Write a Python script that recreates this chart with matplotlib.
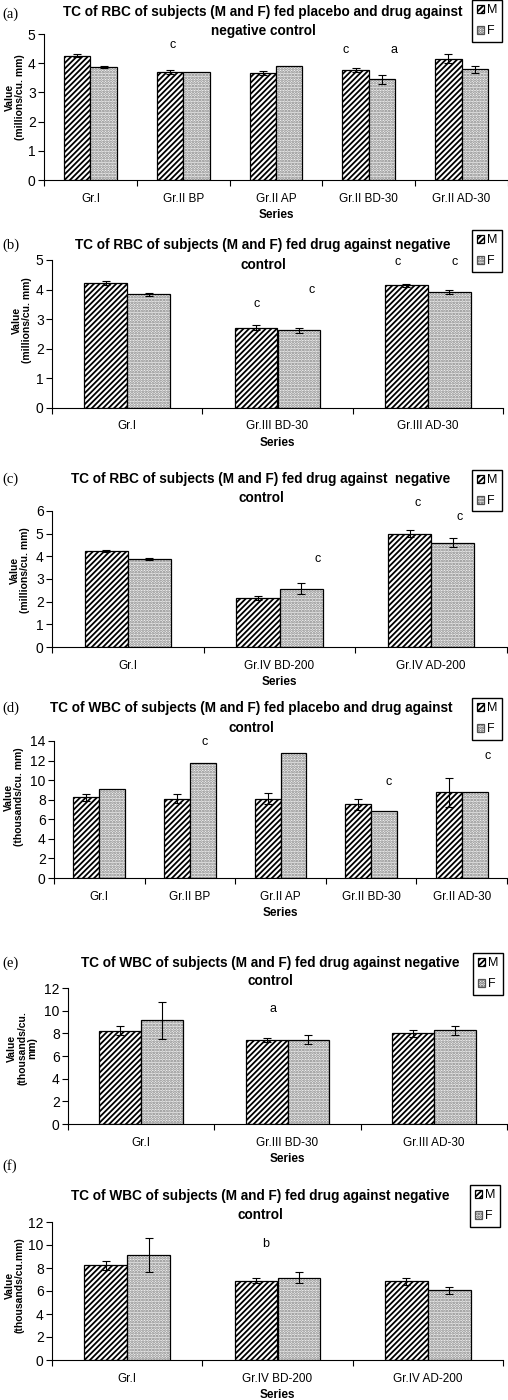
import numpy as np
import matplotlib
matplotlib.use("Agg")
import matplotlib.pyplot as plt
from matplotlib.patches import Patch

plt.rcParams["font.family"] = ["Liberation Sans", "DejaVu Sans"]
plt.rcParams["hatch.linewidth"] = 1.3

W, H = 508, 1400

# ---- (a) RBC, placebo + drug ----
a_cats = ["Gr.I", "Gr.II BP", "Gr.II AP", "Gr.II BD-30", "Gr.II AD-30"]
a_m = [4.25, 3.70, 3.67, 3.78, 4.15]
a_m_err = [0.05, 0.08, 0.07, 0.07, 0.15]
a_f = [3.86, 3.71, 3.91, 3.45, 3.79]
a_f_err = [0.04, 0, 0, 0.15, 0.12]
a_marks = [(1, -0.11, 4.62, "c"), (3, -0.25, 4.45, "c"), (3, 0.27, 4.45, "a")]

# ---- (b) RBC, drug 30 ----
b_cats = ["Gr.I", "Gr.III BD-30", "Gr.III AD-30"]
b_m = [4.22, 2.71, 4.14]
b_m_err = [0.06, 0.08, 0.06]
b_f = [3.85, 2.63, 3.92]
b_f_err = [0.05, 0.08, 0.07]
b_marks = [(1, -0.14, 3.5, "c"), (1, 0.23, 3.99, "c"), (2, -0.2, 4.93, "c"), (2, 0.18, 4.93, "c")]

# ---- (c) RBC, drug 200 ----
c_cats = ["Gr.I", "Gr.IV BD-200", "Gr.IV AD-200"]
c_m = [4.23, 2.15, 5.0]
c_m_err = [0.03, 0.08, 0.15]
c_f = [3.87, 2.57, 4.6]
c_f_err = [0.04, 0.25, 0.2]
c_marks = [(1, 0.25, 3.88, "c"), (2, -0.09, 6.37, "c"), (2, 0.19, 5.72, "c")]

# ---- (d) WBC, placebo + drug ----
d_cats = ["Gr.I", "Gr.II BP", "Gr.II AP", "Gr.II BD-30", "Gr.II AD-30"]
d_m = [8.23, 8.12, 8.12, 7.54, 8.74]
d_m_err = [0.4, 0.45, 0.55, 0.55, 1.45]
d_f = [9.08, 11.8, 12.73, 6.86, 8.74]
d_f_err = [0, 0, 0, 0, 0]
d_marks = [(1, 0.16, 13.9, "c"), (3, 0.19, 9.83, "c"), (4, 0.29, 12.5, "c")]

# ---- (e) WBC, drug 30 ----
e_cats = ["Gr.I", "Gr.III BD-30", "Gr.III AD-30"]
e_m = [8.23, 7.43, 8.02]
e_m_err = [0.4, 0.2, 0.3]
e_f = [9.14, 7.43, 8.26]
e_f_err = [1.6, 0.4, 0.4]
e_marks = [(1, -0.1, 10.18, "a")]

# ---- (f) WBC, drug 200 ----
f_cats = ["Gr.I", "Gr.IV BD-200", "Gr.IV AD-200"]
f_m = [8.23, 6.91, 6.86]
f_m_err = [0.4, 0.2, 0.3]
f_f = [9.14, 7.17, 6.06]
f_f_err = [1.5, 0.5, 0.3]
f_marks = [(1, -0.08, 10.06, "b")]

panels = [
    dict(tag="(a)", cats=a_cats, m=a_m, me=a_m_err, f=a_f, fe=a_f_err, marks=a_marks,
         ymax=5, step=1, box=(44, 34, 508, 180), tag_y=14, title_x=263, title_y=(12, 31),
         title=("TC of RBC of subjects (M and F) fed placebo and drug against", "negative control"),
         ylabel="Value\n(millions/cu. mm)", ylab_xy=(15, 97), leg=(502, 0)),
    dict(tag="(b)", cats=b_cats, m=b_m, me=b_m_err, f=b_f, fe=b_f_err, marks=b_marks,
         ymax=5, step=1, box=(52, 260, 503, 408), tag_y=245, title_x=263, title_y=(245, 265),
         title=("TC of RBC of subjects (M and F) fed drug against negative", "control"),
         ylabel="Value\n(millions/cu. mm)", ylab_xy=(22, 320), leg=(502, 230)),
    dict(tag="(c)", cats=c_cats, m=c_m, me=c_m_err, f=c_f, fe=c_f_err, marks=c_marks,
         ymax=6, step=1, box=(52, 511, 507, 647), tag_y=479, title_x=261, title_y=(479, 498),
         title=("TC of RBC of subjects (M and F) fed drug against  negative", "control"),
         ylabel="Value\n(millions/cu. mm)", ylab_xy=(20, 570), leg=(502, 470)),
    dict(tag="(d)", cats=d_cats, m=d_m, me=d_m_err, f=d_f, fe=d_f_err, marks=d_marks,
         ymax=14, step=2, box=(54, 741, 507, 878), tag_y=708, title_x=251, title_y=(708, 728),
         title=("TC of WBC of subjects (M and F) fed placebo and drug against", "control"),
         ylabel="Value\n(thousands/cu. mm)", ylab_xy=(14, 797), leg=(502, 698)),
    dict(tag="(e)", cats=e_cats, m=e_m, me=e_m_err, f=e_f, fe=e_f_err, marks=e_marks,
         ymax=12, step=2, box=(68, 988, 507, 1124), tag_y=963, title_x=270, title_y=(963, 981),
         title=("TC of WBC of subjects (M and F) fed drug against negative", "control"),
         ylabel="Value\n(thousands/cu.\nmm)", ylab_xy=(22, 1048), leg=(503, 953)),
    dict(tag="(f)", cats=f_cats, m=f_m, me=f_m_err, f=f_f, fe=f_f_err, marks=f_marks,
         ymax=12, step=2, box=(52, 1222, 503, 1360), tag_y=1166, title_x=260, title_y=(1196, 1215),
         title=("TC of WBC of subjects (M and F) fed drug against negative", "control"),
         ylabel="Value\n(thousands/cu.mm)", ylab_xy=(15, 1285), leg=(500, 1185)),
]

M_STYLE = dict(facecolor="white", edgecolor="black", hatch="//////", linewidth=0.9)
F_FILL = dict(facecolor="#f2f2f2", edgecolor="#808080", hatch="......", linewidth=0)
F_EDGE = dict(fill=False, edgecolor="black", linewidth=0.9)

fig = plt.figure(figsize=(W / 100, H / 100), dpi=100)

for p in panels:
    l, t, r, b = p["box"]
    ax = fig.add_axes([l / W, 1 - b / H, (r - l) / W, (b - t) / H])
    n = len(p["cats"])
    x = np.arange(n)
    w = 0.285
    ax.bar(x - w / 2, p["m"], w, **M_STYLE)
    ax.bar(x + w / 2, p["f"], w, **F_FILL)
    ax.bar(x + w / 2, p["f"], w, **F_EDGE)
    for off, vals, errs in ((-w / 2, p["m"], p["me"]), (w / 2, p["f"], p["fe"])):
        errs = np.asarray(errs, float)
        keep = errs > 0
        if keep.any():
            ax.errorbar((x + off)[keep], np.asarray(vals)[keep], yerr=errs[keep], fmt="none",
                        ecolor="black", elinewidth=0.8, capsize=3, capthick=0.8)
    for ci, off, yv, s in p["marks"]:
        ax.text(ci + off, yv, s, ha="center", va="center", fontsize=9, clip_on=False)

    ax.set_xlim(-0.5, n - 0.5)
    ax.set_ylim(0, p["ymax"])
    ax.set_yticks(np.arange(0, p["ymax"] + 0.1, p["step"]))
    ax.set_xticks(x)
    ax.set_xticklabels(p["cats"], fontsize=8.5)
    ax.set_xticks(np.arange(n + 1) - 0.5, minor=True)
    ax.tick_params(axis="x", which="major", length=0, pad=9)
    ax.tick_params(axis="x", which="minor", length=4, direction="out", width=0.8)
    ax.tick_params(axis="y", length=4, direction="out", width=0.8, labelsize=10, pad=2)
    for s in ("top", "right"):
        ax.spines[s].set_visible(False)
    for s in ("left", "bottom"):
        ax.spines[s].set_linewidth(0.8)
    ax.set_xlabel("Series", fontsize=8.5, fontweight="bold", labelpad=3)

    # y label, tag, title, legend in figure pixel coordinates
    yx, yy = p["ylab_xy"]
    fig.text(yx / W, 1 - yy / H, p["ylabel"], rotation=90, ha="center", va="center",
             fontsize=7.5, fontweight="bold", multialignment="center", linespacing=1.0)
    fig.text(2 / W, 1 - p["tag_y"] / H, p["tag"], ha="left", va="center", fontsize=10.5,
             family="Liberation Serif")
    for line, ty in zip(p["title"], p["title_y"]):
        fig.text(p["title_x"] / W, 1 - ty / H, line, ha="center", va="center",
                 fontweight="bold", fontsize=9.8)
    lx, ly = p["leg"]
    fig.legend(handles=[Patch(label="M", **M_STYLE),
                        Patch(label="F", facecolor="#f2f2f2", edgecolor="#555555",
                              hatch="......", linewidth=0.9)],
               loc="upper right", bbox_to_anchor=(lx / W, 1 - ly / H), fontsize=9,
               frameon=True, fancybox=False, edgecolor="black", framealpha=1,
               handlelength=0.6, handleheight=0.6, handletextpad=0.25, borderpad=0.35,
               labelspacing=0.7, borderaxespad=0)

fig.savefig("out.png", dpi=100)
